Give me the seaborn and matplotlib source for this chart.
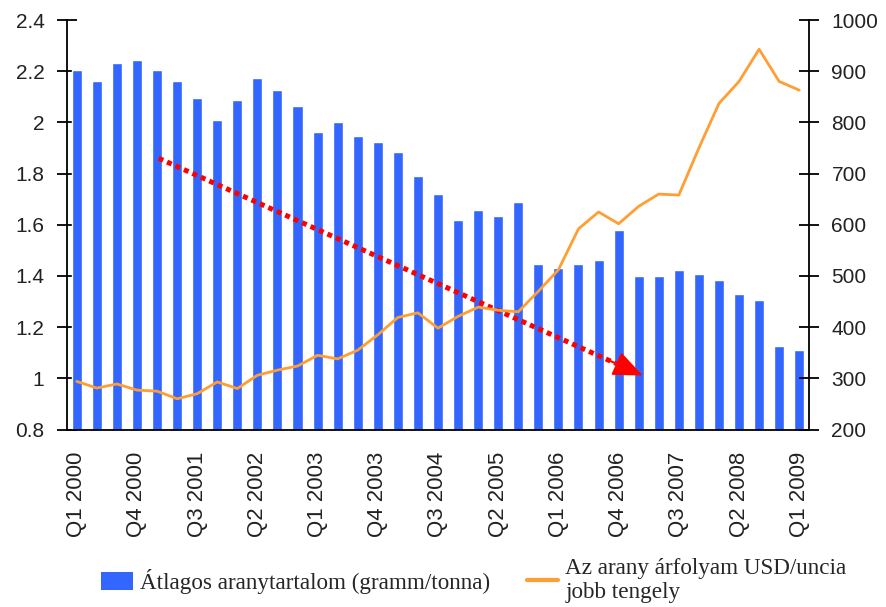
import numpy as np
import pandas as pd
import matplotlib
matplotlib.use("Agg")
import matplotlib.pyplot as plt
import seaborn as sns
from matplotlib.patches import Patch
from matplotlib.lines import Line2D
from matplotlib.ticker import FuncFormatter

quarters = [
    "Q1 2000", "Q2 2000", "Q3 2000", "Q4 2000",
    "Q1 2001", "Q2 2001", "Q3 2001", "Q4 2001",
    "Q1 2002", "Q2 2002", "Q3 2002", "Q4 2002",
    "Q1 2003", "Q2 2003", "Q3 2003", "Q4 2003",
    "Q1 2004", "Q2 2004", "Q3 2004", "Q4 2004",
    "Q1 2005", "Q2 2005", "Q3 2005", "Q4 2005",
    "Q1 2006", "Q2 2006", "Q3 2006", "Q4 2006",
    "Q1 2007", "Q2 2007", "Q3 2007", "Q4 2007",
    "Q1 2008", "Q2 2008", "Q3 2008", "Q4 2008",
    "Q1 2009",
]
gold_content = [2.205, 2.16, 2.231, 2.244, 2.205, 2.16, 2.094, 2.01, 2.088, 2.172,
                2.127, 2.064, 1.962, 2.002, 1.947, 1.922, 1.884, 1.791, 1.721, 1.62,
                1.659, 1.635, 1.69, 1.447, 1.431, 1.447, 1.463, 1.58, 1.398, 1.398,
                1.424, 1.407, 1.384, 1.329, 1.305, 1.125, 1.11]
gold_price = [294, 281, 289, 277, 275, 260, 270, 293, 280, 306,
              316, 324, 345, 338, 355, 385, 419, 428, 398, 421,
              439, 433, 430, 470, 512, 592, 625, 602, 636, 660,
              658, 750, 837, 880, 943, 880, 863]
# hand-drawn trend arrow (start, end) in bar-axis units
trend_x = [4.08, 28.2]
trend_y = [1.86, 1.011]

label_bar = "Átlagos aranytartalom (gramm/tonna)"
label_line = "Az arany árfolyam USD/uncia\njobb tengely"

BLUE = "#3366FF"
ORANGE = "#FF9E33"
RED = "#FF0000"

sns.set_theme(style="white")
plt.rcParams["font.family"] = ["Liberation Sans", "DejaVu Sans"]

df = pd.DataFrame({"quarter": quarters, "content": gold_content,
                   "pos": np.arange(len(quarters)), "price": gold_price})

fig = plt.figure(figsize=(8.86, 6.07), dpi=100)
fig.subplots_adjust(left=0.0753, right=0.9134, bottom=0.2924, top=0.967)
ax = fig.add_subplot(111)

sns.barplot(data=df, x="quarter", y="content", color=BLUE, saturation=1,
            width=0.5, ax=ax, order=quarters)
ax.set_ylim(0.8, 2.4)
ax.set_xlim(-0.5, len(quarters) - 0.5)
ax.set_yticks(np.arange(0.8, 2.41, 0.2))
ax.yaxis.set_major_formatter(FuncFormatter(
    lambda v, p: f"{v:.1f}" if abs(v - round(v)) > 1e-6 else f"{int(round(v))}"))
ax.set_xlabel("")
ax.set_ylabel("")

# trend arrow
fx = 0.945
bx = trend_x[0] + (trend_x[1] - trend_x[0]) * fx
by = trend_y[0] + (trend_y[1] - trend_y[0]) * fx
ax.plot([trend_x[0], bx], [trend_y[0], by], color=RED, lw=3.6,
        linestyle=(0, (1, 0.85)), dash_capstyle="butt", zorder=5)
hx = trend_x[0] + (trend_x[1] - trend_x[0]) * 0.93
hy = trend_y[0] + (trend_y[1] - trend_y[0]) * 0.93
ax.annotate("", xy=(trend_x[1], trend_y[1]), xytext=(hx, hy),
            arrowprops=dict(arrowstyle="-|>,head_length=1.3,head_width=0.55",
                            color=RED, lw=1.5, mutation_scale=14,
                            shrinkA=0, shrinkB=0), zorder=6)

ax2 = ax.twinx()
sns.lineplot(data=df, x="pos", y="price", color=ORANGE, lw=2, ax=ax2)
ax2.set_ylim(200, 1000)
ax2.set_yticks(np.arange(200, 1001, 100))
ax2.set_xlabel("")
ax2.set_ylabel("")
ax.set_xlim(-0.5, len(quarters) - 0.5)

# x ticks
ax.set_xticks(np.arange(0, len(quarters), 3))
ax.set_xticklabels(quarters[::3], rotation=90)
ax.set_xticks(np.arange(-0.5, len(quarters), 1), minor=True)
ax.tick_params(axis="x", which="major", length=0, pad=16, labelsize=16, colors="#222222")
ax.tick_params(axis="x", which="minor", direction="inout", length=14, width=1.3, color="black")
ax.tick_params(axis="y", which="major", direction="inout", length=14, width=1.3,
               color="black", pad=9, labelsize=15, labelcolor="#222222", left=True)
ax2.tick_params(axis="y", which="major", direction="inout", length=14, width=1.3,
                color="black", pad=9, labelsize=15, labelcolor="#222222", right=True)

for a in (ax, ax2):
    a.spines["top"].set_visible(False)
    for s in ("left", "right", "bottom"):
        a.spines[s].set_color("black")
        a.spines[s].set_linewidth(1.3)
ax.spines["right"].set_visible(False)
ax2.spines["left"].set_visible(False)
ax2.spines["bottom"].set_visible(False)

handles = [Patch(facecolor=BLUE, edgecolor="none"), Line2D([0], [0], color=ORANGE, lw=3)]
fig.legend(handles, [label_bar, label_line], loc="center",
           bbox_to_anchor=(0.535, 0.043), ncol=2, frameon=False,
           prop={"family": "Liberation Serif", "size": 16.7},
           handlelength=1.35, handleheight=0.8, handletextpad=0.3,
           columnspacing=1.6, labelspacing=0.2)

fig.savefig("out.png", dpi=100)
